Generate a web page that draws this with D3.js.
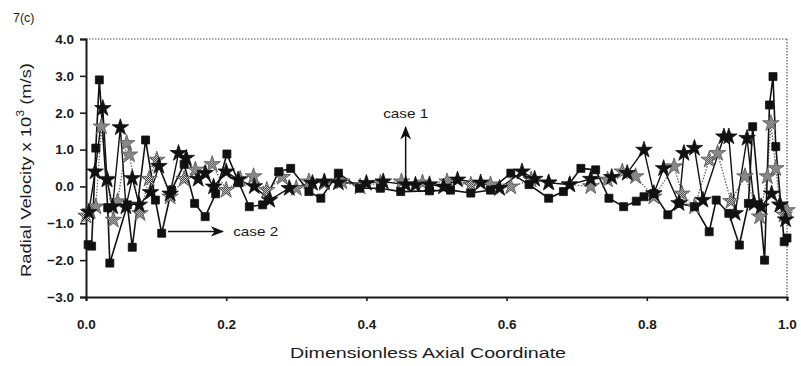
<!DOCTYPE html>
<html><head><meta charset="utf-8">
<script src="https://cdn.jsdelivr.net/npm/d3@7"></script>
<style>body{margin:0;background:#fff}svg{display:block}text{font-family:"Liberation Sans",Arial,sans-serif;fill:#1a1a1a}</style>
</head><body><svg id="c" width="801" height="366"></svg>
<script>
const xTicks=[0,0.2,0.4,0.6,0.8,1.0];
const yTicks=[-3,-2,-1,0,1,2,3,4];
// black squares series
const sqX=[0.003,0.008,0.014,0.019,0.031,0.034,0.059,0.066,0.085,0.099,0.108,0.122,0.140,0.155,0.170,0.185,0.201,0.218,0.233,0.252,0.275,0.292,0.318,0.335,0.360,0.390,0.420,0.449,0.490,0.520,0.549,0.577,0.606,0.632,0.660,0.681,0.706,0.727,0.746,0.767,0.785,0.796,0.810,0.830,0.846,0.868,0.889,0.899,0.917,0.932,0.945,0.951,0.968,0.975,0.980,0.984,0.996,1.000];
const sqY=[-1.58,-1.62,1.04,2.89,-0.58,-2.08,-0.50,-1.65,1.26,-0.37,-1.27,-0.10,0.60,-0.46,-0.82,-0.20,0.88,0.10,-0.55,-0.50,0.40,0.49,-0.14,-0.32,0.36,-0.05,-0.05,-0.14,-0.12,-0.10,-0.18,-0.10,0.36,0.05,-0.32,-0.14,0.49,0.45,-0.32,-0.55,-0.40,-0.28,-0.19,-0.77,-0.46,-0.55,-1.23,-0.37,-0.73,-1.59,-0.46,1.62,-2.00,2.21,2.98,1.08,-1.50,-1.40];
// black star series
const stX=[0.004,0.013,0.024,0.030,0.038,0.049,0.057,0.066,0.076,0.092,0.104,0.120,0.132,0.143,0.160,0.170,0.182,0.200,0.217,0.240,0.262,0.290,0.323,0.340,0.360,0.400,0.424,0.456,0.470,0.490,0.510,0.530,0.563,0.590,0.622,0.640,0.660,0.690,0.720,0.750,0.772,0.796,0.810,0.824,0.846,0.853,0.868,0.880,0.910,0.917,0.926,0.943,0.953,0.963,0.978,0.990,0.998];
const stY=[-0.70,0.40,2.12,0.18,-0.55,1.60,-0.55,0.22,-0.50,-0.16,0.55,-0.20,0.90,0.77,0.20,0.36,-0.01,0.40,0.18,0.00,-0.37,-0.05,0.09,0.13,0.10,0.09,0.13,0.05,0.04,0.05,-0.01,0.18,0.10,-0.05,0.40,0.20,0.10,0.05,0.20,0.25,0.36,0.99,-0.19,0.49,-0.46,0.90,1.04,-0.37,1.35,1.35,-0.73,1.31,-0.46,-0.55,-0.20,-0.50,-0.90];
// grey hatched series
const grX=[0.000,0.006,0.014,0.022,0.030,0.039,0.045,0.058,0.062,0.077,0.090,0.101,0.120,0.140,0.156,0.180,0.200,0.220,0.239,0.258,0.280,0.300,0.318,0.340,0.365,0.391,0.420,0.450,0.480,0.515,0.549,0.577,0.606,0.635,0.660,0.690,0.720,0.744,0.765,0.784,0.810,0.839,0.850,0.868,0.889,0.901,0.920,0.940,0.961,0.972,0.977,0.984,0.990,0.996,1.000];
const grY=[-0.80,-0.68,-0.55,1.62,0.20,-0.91,-0.41,1.17,0.86,-0.73,0.20,0.72,-0.28,0.20,0.45,0.60,-0.10,0.20,0.27,-0.10,0.25,-0.05,0.13,0.09,0.13,-0.01,0.09,0.13,0.10,0.13,0.04,0.05,-0.01,0.18,0.10,0.05,0.00,0.18,0.40,0.27,-0.28,0.54,-0.20,-0.55,0.72,0.90,-0.40,0.27,-0.82,0.27,1.71,0.49,-0.50,-0.77,-0.65];

const svg=d3.select("#c");
const L=86,R=787,T=39,B=297;
const x=d3.scaleLinear().domain([0,1]).range([L,R]);
const y=d3.scaleLinear().domain([-3,4]).range([B,T]);

const defs=svg.append("defs");
const p=defs.append("pattern").attr("id","hatch").attr("width",2).attr("height",2).attr("patternUnits","userSpaceOnUse");
p.append("rect").attr("width",2).attr("height",2).attr("fill","#eee");
p.append("rect").attr("width",1).attr("height",1).attr("fill","#222");
p.append("rect").attr("x",1).attr("y",1).attr("width",1).attr("height",1).attr("fill","#222");

svg.append("line").attr("x1",L).attr("x2",R).attr("y1",T).attr("y2",T).attr("stroke","#555").attr("stroke-width",1.2).attr("stroke-dasharray","1.5,1.5");
svg.append("line").attr("x1",R).attr("x2",R).attr("y1",T).attr("y2",B).attr("stroke","#555").attr("stroke-width",1.2).attr("stroke-dasharray","1.5,1.5");

const ya=svg.append("g").attr("transform",`translate(${L},0)`).call(d3.axisLeft(y).tickValues(yTicks).tickFormat(d3.format(".1f")).tickSize(6).tickPadding(6));
const xa=svg.append("g").attr("transform",`translate(0,${B})`).call(d3.axisBottom(x).tickValues(xTicks).tickFormat(d3.format(".1f")).tickSize(4).tickPadding(18));
[ya,xa].forEach(a=>{a.select(".domain").attr("stroke","#1a1a1a").attr("stroke-width",2);a.selectAll(".tick line").attr("stroke","#1a1a1a").attr("stroke-width",1.6);a.selectAll("text").attr("font-size",13.5).attr("font-weight","bold").attr("fill","#222").style("font-family","'Liberation Sans',Arial,sans-serif");});

const series=[
 {xs:grX,ys:grY,stroke:"#666",w:1.3,dash:"1.5,1.5",sym:d3.symbolStar,size:85,fill:"url(#hatch)"},
 {xs:stX,ys:stY,stroke:"#111",w:1.4,dash:null,sym:d3.symbolStar,size:85,fill:"#111"},
 {xs:sqX,ys:sqY,stroke:"#111",w:1.6,dash:null,sym:d3.symbolSquare,size:64,fill:"#111"}
];
const line=d3.line().x(d=>x(d[0])).y(d=>y(d[1]));
series.forEach(s=>{
 const data=s.xs.map((v,i)=>[v,s.ys[i]]);
 svg.append("path").datum(data).attr("d",line).attr("fill","none").attr("stroke",s.stroke).attr("stroke-width",s.w).attr("stroke-dasharray",s.dash);
});
series.forEach(s=>{
 const data=s.xs.map((v,i)=>[v,s.ys[i]]);
 svg.append("g").selectAll("path").data(data).join("path")
  .attr("transform",d=>`translate(${x(d[0])},${y(d[1])})`)
  .attr("d",d3.symbol().type(s.sym).size(s.size)).attr("fill",s.fill).attr("stroke",s.fill==="url(#hatch)"?"#555":"#111").attr("stroke-width",0.8);
});

defs.append("marker").attr("id","ah").attr("viewBox","0 0 10 10").attr("refX",9).attr("refY",5).attr("markerWidth",9).attr("markerHeight",9).attr("orient","auto")
 .append("path").attr("d","M0,1 L10,5 L0,9 L3,5 Z").attr("fill","#111");
svg.append("line").attr("x1",x(0.456)).attr("x2",x(0.456)).attr("y1",y(0.1)).attr("y2",y(1.6)).attr("stroke","#111").attr("stroke-width",1.5).attr("marker-end","url(#ah)");
svg.append("text").attr("x",x(0.456)).attr("y",y(1.85)).attr("text-anchor","middle").attr("font-size",13).attr("textLength",45).attr("lengthAdjust","spacingAndGlyphs").text("case 1");
svg.append("line").attr("x1",x(0.117)).attr("x2",x(0.195)).attr("y1",y(-1.22)).attr("y2",y(-1.22)).attr("stroke","#111").attr("stroke-width",1.5).attr("marker-end","url(#ah)");
svg.append("text").attr("x",x(0.21)).attr("y",y(-1.22)+5).attr("font-size",13).attr("textLength",45).attr("lengthAdjust","spacingAndGlyphs").text("case 2");

svg.append("text").attr("x",13).attr("y",22).attr("font-size",12.5).text("7(c)");
svg.append("text").attr("x",290).attr("y",358).attr("font-size",15).attr("textLength",276).attr("lengthAdjust","spacingAndGlyphs").text("Dimensionless Axial Coordinate");
const yl=svg.append("text").attr("transform","translate(31,277) rotate(-90)").attr("font-size",15).attr("textLength",214).attr("lengthAdjust","spacingAndGlyphs");
yl.append("tspan").text("Radial Velocity x 10");
yl.append("tspan").attr("dy",-7).attr("font-size",10).text("3");
yl.append("tspan").attr("dy",7).text(" (m/s)");
</script></body></html>
